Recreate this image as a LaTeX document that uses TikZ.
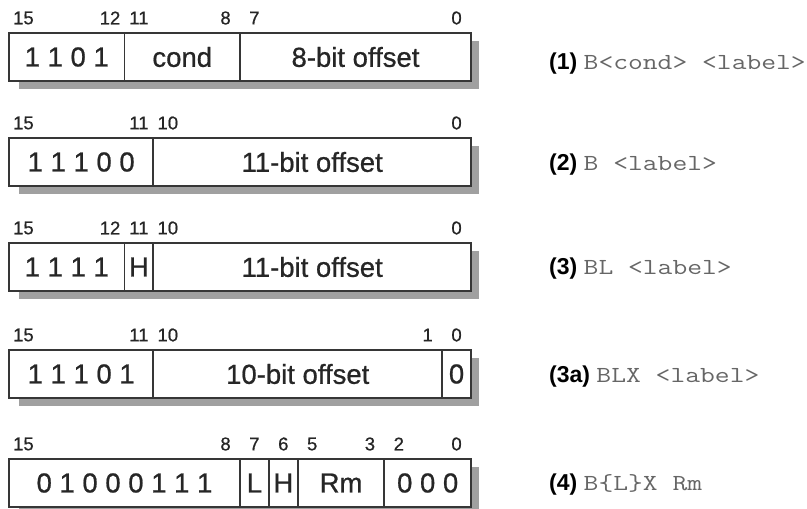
\documentclass[tikz,border=0pt]{standalone}
\usepackage{fontspec}
\setmainfont{Liberation Sans}
\setmonofont[FakeStretch=1.25]{Latin Modern Mono}
\newfontfamily\fieldfont[FakeBold=0.7]{Liberation Sans}
\usetikzlibrary{positioning,backgrounds}
\definecolor{framegray}{HTML}{363636}
\definecolor{shadowgray}{HTML}{A0A0A0}
\definecolor{labelgray}{HTML}{262626}
\definecolor{codegray}{HTML}{666666}
\def\bitwidth{28.875pt}
\newcommand{\bitc}[1]{9+(15.5-#1)*28.875}

\begin{document}
\begin{tikzpicture}[x=1pt,y=-1pt,
    field/.style={draw=framegray,line width=1.8pt,fill=white,inner sep=0pt,outer sep=0pt,
      minimum height=48pt,minimum width=#1*\bitwidth,text=labelgray,
      font=\fieldfont\fontsize{27.5}{30}\selectfont},
    bitnum/.style={inner sep=0pt,text=labelgray,font=\fieldfont\fontsize{18.5}{20}\selectfont},
    caption/.style={anchor=west,inner sep=0pt,font=\fontsize{23}{26}\selectfont},
    shadow/.style={fill=shadowgray}]
    \useasboundingbox (0,0) rectangle (807,509);
    % (1) conditional branch
    \node[field=4,anchor=north west] (opA) at (9,33) {1 1 0 1};
    \node[field=4,right=0pt of opA] (condA) {cond};
    \node[field=8,right=0pt of condA] (offA) {8-bit offset};
    \foreach \b in {15,12,11,8,7,0}
      \node[bitnum] (nA\b) at ({\bitc{\b}},18) {\b};
    \node[caption] (capA) at (549,64) {\textbf{(1)} \textcolor{codegray}{\texttt{B<cond> <label>}}};
    % (2) unconditional branch
    \node[field=5,anchor=north west] (opB) at (9,138) {1 1 1 0 0};
    \node[field=11,right=0pt of opB] (offB) {11-bit offset};
    \foreach \b in {15,11,10,0}
      \node[bitnum] (nB\b) at ({\bitc{\b}},123) {\b};
    \node[caption] (capB) at (549,165) {\textbf{(2)} \textcolor{codegray}{\texttt{B <label>}}};
    % (3) branch with link
    \node[field=4,anchor=north west] (opC) at (9,243) {1 1 1 1};
    \node[field=1,right=0pt of opC] (hC) {H};
    \node[field=11,right=0pt of hC] (offC) {11-bit offset};
    \foreach \b in {15,12,11,10,0}
      \node[bitnum] (nC\b) at ({\bitc{\b}},228) {\b};
    \node[caption] (capC) at (549,269) {\textbf{(3)} \textcolor{codegray}{\texttt{BL <label>}}};
    % (3a) branch with link and exchange
    \node[field=5,anchor=north west] (opD) at (9,350) {1 1 1 0 1};
    \node[field=10,right=0pt of opD] (offD) {10-bit offset};
    \node[field=1,right=0pt of offD] (zeroD) {0};
    \foreach \b in {15,11,10,1,0}
      \node[bitnum] (nD\b) at ({\bitc{\b}},335) {\b};
    \node[caption] (capD) at (549,377) {\textbf{(3a)} \textcolor{codegray}{\texttt{BLX <label>}}};
    % (4) branch to register
    \node[field=8,anchor=north west] (opE) at (9,459) {0 1 0 0 0 1 1 1};
    \node[field=1,right=0pt of opE] (lE) {L};
    \node[field=1,right=0pt of lE] (hE) {H};
    \node[field=3,right=0pt of hE] (rmE) {Rm};
    \node[field=3,right=0pt of rmE] (zeroE) {0 0 0};
    \foreach \b in {15,8,7,6,5,3,2,0}
      \node[bitnum] (nE\b) at ({\bitc{\b}},444) {\b};
    \node[caption] (capE) at (549,485) {\textbf{(4)} \textcolor{codegray}{\texttt{B\{L\}X Rm}}};
    % drop shadows
    \begin{scope}[on background layer]
      \fill[shadow] ([shift={(10,8)}]opA.north west) rectangle ([shift={(8,8)}]offA.south east);
      \fill[shadow] ([shift={(10,8)}]opB.north west) rectangle ([shift={(8,8)}]offB.south east);
      \fill[shadow] ([shift={(10,8)}]opC.north west) rectangle ([shift={(8,8)}]offC.south east);
      \fill[shadow] ([shift={(10,8)}]opD.north west) rectangle ([shift={(8,8)}]zeroD.south east);
      \fill[shadow] ([shift={(10,8)}]opE.north west) rectangle ([shift={(8,8)}]zeroE.south east);
    \end{scope}
\end{tikzpicture}
\end{document}
